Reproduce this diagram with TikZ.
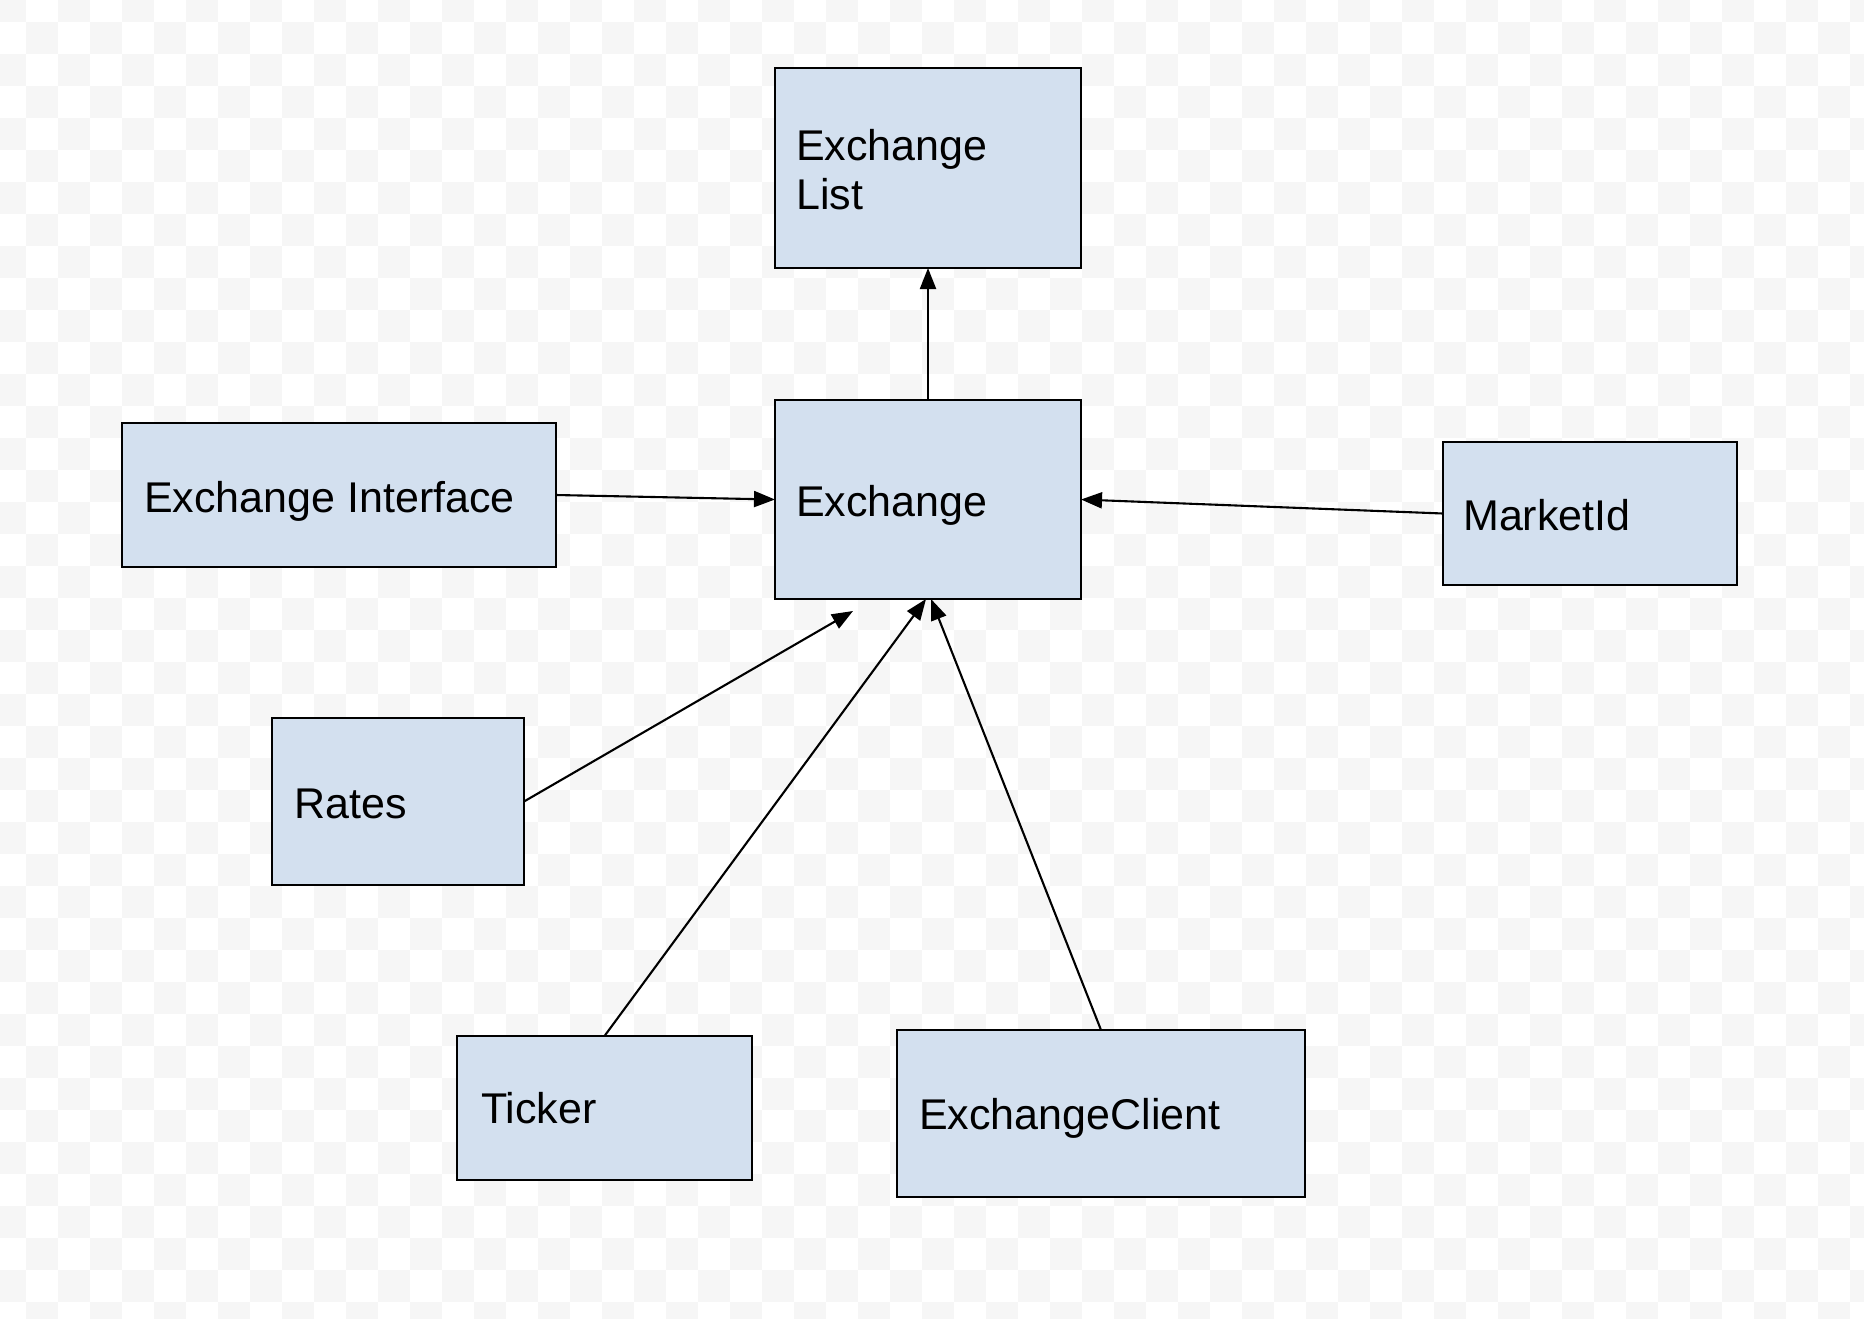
\documentclass[tikz,border=0pt]{standalone}
\usepackage{fontspec}
\setmainfont{Liberation Sans}
\usetikzlibrary{arrows.meta}
\definecolor{boxfill}{RGB}{211,224,239}
\definecolor{checker}{RGB}{246,246,246}
\begin{document}
\begin{tikzpicture}[x=1pt,y=-1pt,
  box/.style={draw=black, line width=2.3pt, fill=boxfill, anchor=north west, inner sep=0pt, outer sep=0pt},
  lbl/.style={anchor=base west, inner sep=0pt, font=\fontsize{43}{49}\selectfont, align=left},
  conn/.style={draw=black, line width=2.1pt, -{Triangle[length=21pt,width=16pt]}}]
\useasboundingbox (0,0) rectangle (1864,1318);
\fill[white] (0,0) rectangle (1864,1318);
\begin{scope}
\clip (0,0) rectangle (1864,1318);
\foreach \j in {0,...,41}{
  \foreach \k in {0,...,58}{
    \pgfmathtruncatemacro\cpar{mod(\j+\k,2)}
    \ifnum\cpar=0 \fill[checker] (-6+32*\k,-10+32*\j) rectangle ++(32,32);\fi
  }
}
\end{scope}
% boxes
\node[box, minimum width=306pt, minimum height=200pt] (exl) at (775,68) {};
\node[box, minimum width=306pt, minimum height=199pt] (ex) at (775,400) {};
\node[box, minimum width=434pt, minimum height=144pt] (exi) at (122,423) {};
\node[box, minimum width=294pt, minimum height=143pt] (mkt) at (1443,442) {};
\node[box, minimum width=252pt, minimum height=167pt] (rat) at (272,718) {};
\node[box, minimum width=295pt, minimum height=144pt] (tic) at (457,1036) {};
\node[box, minimum width=408pt, minimum height=167pt] (exc) at (897,1030) {};
% labels
\node[lbl] (exl-t) at (796,209) {Exchange\\List};
\node[lbl] (ex-t) at (796,516) {Exchange};
\node[lbl] (exi-t) at (144,512) {Exchange Interface};
\node[lbl] (mkt-t) at (1463,530) {MarketId};
\node[lbl] (rat-t) at (294,818) {Rates};
\node[lbl] (tic-t) at (481,1123) {Ticker};
\node[lbl] (exc-t) at (919,1129) {ExchangeClient};
% connectors
\coordinate (rat-end) at (853,611);
\draw[conn] (ex.north) -- (exl.south);
\draw[conn] (exi.east) -- (ex.west);
\draw[conn] (mkt.west) -- (ex.east);
\draw[conn] (rat.east) -- (rat-end);
\draw[conn] (tic.north) -- ([xshift=-2pt]ex.south);
\draw[conn] (exc.north) -- ([xshift=3pt]ex.south);
\end{tikzpicture}
\end{document}
